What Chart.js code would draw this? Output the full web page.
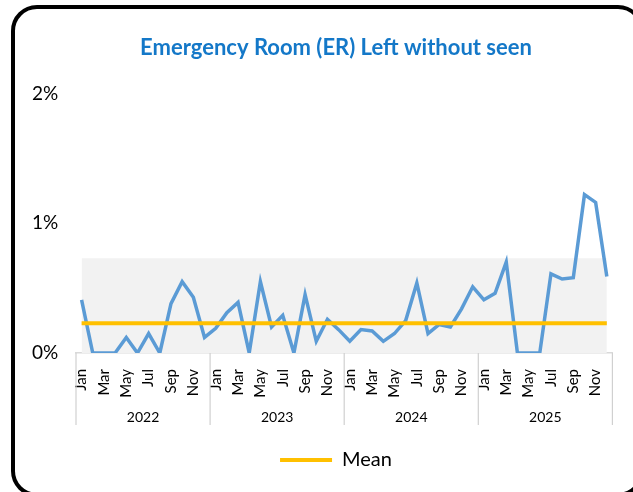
<!DOCTYPE html>
<html>
<head>
<meta charset="utf-8">
<script src="https://cdn.jsdelivr.net/npm/chart.js@4"></script>
<style>
    body { margin: 0; background: #fff; overflow: hidden; }
    #wrap { position: relative; width: 633px; height: 492px; overflow: hidden; }
    #frame {
        position: absolute; left: 11px; top: 5px; width: 625px; height: 484px;
        border: 4.5px solid #000; border-radius: 26px; pointer-events: none;
    }
</style>
</head>
<body>
<div id="wrap">
    <canvas id="grafico" width="633" height="492"></canvas>
    <div id="frame"></div>
</div>
<script>
// values in percent (0.41 = 0.41%)
const months = ["Jan", "Feb", "Mar", "Apr", "May", "Jun", "Jul", "Aug", "Sep", "Oct", "Nov", "Dec"];
const years = ["2022", "2023", "2024", "2025"];

const lwbs2022 = [0.41, 0, 0, 0, 0.12, 0, 0.15, 0, 0.38, 0.55, 0.43, 0.12];
const lwbs2023 = [0.19, 0.31, 0.39, 0, 0.55, 0.20, 0.29, 0, 0.45, 0.09, 0.26, 0.18];
const lwbs2024 = [0.09, 0.18, 0.17, 0.09, 0.15, 0.25, 0.54, 0.15, 0.22, 0.20, 0.34, 0.51];
const lwbs2025 = [0.41, 0.46, 0.70, 0, 0, 0, 0.61, 0.57, 0.58, 1.22, 1.16, 0.59];

const meanValue = 0.23;
const bandTop = 0.73;
const yTicks = [0, 1, 2];

const labels = [];
years.forEach(() => months.forEach(m => labels.push(m)));
const lwbs = [...lwbs2022, ...lwbs2023, ...lwbs2024, ...lwbs2025];
const mean = labels.map(() => meanValue);
const band = labels.map(() => bandTop);

const fonte = "Lato, 'Open Sans', sans-serif";

// second row of the x axis: years + separators
const yearAxis = {
    id: "yearAxis",
    afterDraw(chart) {
        const x = chart.scales.x;
        const ctx = chart.ctx;
        const bottom = chart.chartArea.bottom;
        const pitch = x.getPixelForValue(1) - x.getPixelForValue(0);
        ctx.save();
        ctx.strokeStyle = "#d0d0d0";
        ctx.lineWidth = 1.2;
        ctx.fillStyle = "#000";
        ctx.font = "14px " + fonte;
        ctx.textAlign = "center";
        ctx.textBaseline = "middle";
        years.forEach((ano, k) => {
            const left = x.getPixelForValue(k * 12) - pitch / 2;
            const right = x.getPixelForValue(k * 12 + 11) + pitch / 2;
            ctx.beginPath();
            ctx.moveTo(left, bottom);
            ctx.lineTo(left, bottom + 72);
            if (k === years.length - 1) {
                ctx.moveTo(right, bottom);
                ctx.lineTo(right, bottom + 72);
            }
            ctx.stroke();
            ctx.fillText(ano, (left + right) / 2, bottom + 64);
        });
        ctx.restore();
    }
};

new Chart(document.getElementById("grafico"), {
    type: "line",
    data: {
        labels: labels,
        datasets: [
            {
                label: "Mean",
                data: mean,
                borderColor: "#FFC000",
                backgroundColor: "#FFC000",
                borderWidth: 4,
                pointRadius: 0,
                fill: false
            },
            {
                label: "ER LWBS",
                data: lwbs,
                borderColor: "#5B9BD5",
                borderWidth: 3.5,
                pointRadius: 0,
                tension: 0,
                fill: false
            },
            {
                label: "Band",
                data: band,
                borderWidth: 0,
                borderColor: "rgba(0,0,0,0)",
                backgroundColor: "#F2F2F2",
                pointRadius: 0,
                fill: "origin"
            }
        ]
    },
    options: {
        responsive: false,
        animation: false,
        layout: {
            padding: { top: 30, left: 56, right: 17, bottom: 12 }
        },
        plugins: {
            title: {
                display: true,
                text: "Emergency Room (ER) Left without seen",
                color: "#1478C8",
                font: { family: fonte, size: 22, weight: "bold" },
                padding: { top: 5, bottom: 32 }
            },
            legend: {
                position: "bottom",
                labels: {
                    color: "#000",
                    font: { family: fonte, size: 20 },
                    usePointStyle: true,
                    pointStyleWidth: 52,
                    padding: 10,
                    generateLabels: () => [{
                        text: "Mean",
                        strokeStyle: "#FFC000",
                        fillStyle: "#FFC000",
                        lineWidth: 4,
                        pointStyle: "line",
                        datasetIndex: 0
                    }]
                }
            },
            tooltip: { enabled: false }
        },
        scales: {
            x: {
                offset: true,
                grid: { display: false },
                border: { display: true, color: "#d9d9d9", width: 1.5 },
                ticks: {
                    autoSkip: false,
                    minRotation: 90,
                    maxRotation: 90,
                    padding: 8,
                    color: "#000",
                    font: { family: fonte, size: 15 },
                    callback: (v, i) => (i % 2 === 0 ? labels[i] : "")
                },
                afterFit: s => { s.height = 87; }
            },
            y: {
                min: 0,
                max: 2,
                afterBuildTicks: s => { s.ticks = yTicks.map(v => ({ value: v })); },
                grid: { display: false },
                border: { display: false },
                ticks: {
                    mirror: true,
                    crossAlign: "near",
                    padding: -44,
                    color: "#000",
                    font: { family: fonte, size: 19 },
                    callback: v => v + "%"
                },
                afterFit: s => { s.width = 20; }
            }
        }
    },
    plugins: [yearAxis]
});
</script>
</body>
</html>
